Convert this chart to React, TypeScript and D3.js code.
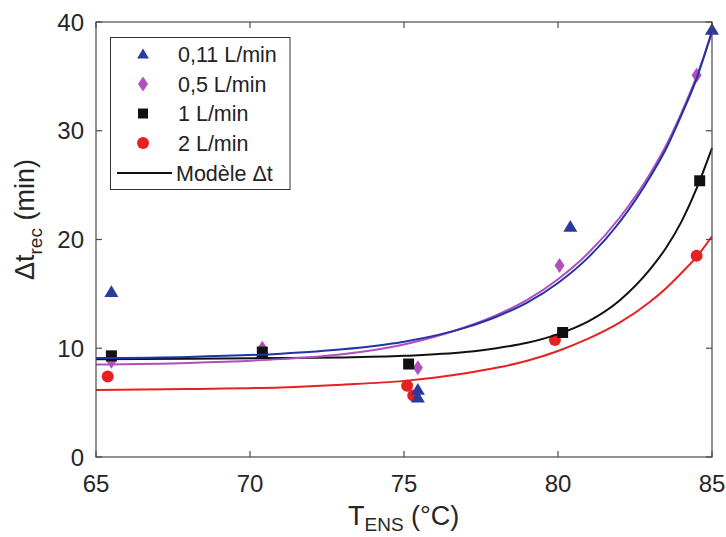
import React from "react";
import * as d3 from "d3";

const xTicks = [65, 70, 75, 80, 85];
const yTicks = [0, 10, 20, 30, 40];

// measured points
const triT = [65.5, 70.4, 75.45, 75.45, 80.4, 85.0];
const triV = [15.2, 9.5, 6.2, 5.5, 21.2, 39.3];
const diaT = [65.5, 70.4, 75.45, 80.05, 84.5];
const diaV = [8.8, 10.0, 8.2, 17.6, 35.1];
const sqT = [65.5, 70.4, 75.15, 80.15, 84.6];
const sqV = [9.3, 9.65, 8.55, 11.45, 25.4];
const cirT = [65.38, 75.1, 75.3, 79.9, 84.5];
const cirV = [7.4, 6.55, 5.65, 10.75, 18.5];

// model curves
const modelT = [65, 68, 71, 73, 75, 77, 78, 79, 80, 81, 82, 83, 83.5, 84, 84.5, 85];
const modelBlue = [9.1, 9.2, 9.5, 9.9, 10.6, 11.9, 12.9, 14.2, 16.0, 18.4, 21.6, 25.8, 28.3, 31.4, 34.8, 39.2];
const modelPurple = [8.5, 8.65, 9.0, 9.45, 10.35, 11.95, 13.05, 14.45, 16.35, 18.8, 22.0, 26.1, 28.6, 31.6, 35.0, 39.0];
const modelBlack = [9.0, 9.03, 9.1, 9.15, 9.3, 9.65, 10.0, 10.5, 11.3, 12.5, 14.4, 17.3, 19.2, 21.6, 24.7, 28.4];
const modelRed = [6.15, 6.25, 6.4, 6.65, 7.0, 7.7, 8.2, 8.85, 9.75, 10.9, 12.35, 14.3, 15.5, 16.9, 18.4, 20.3];

const legendLabels = ["0,11 L/min", "0,5 L/min", "1 L/min", "2 L/min", "Modèle Δt"];

const BLUE = "#2b3a9f";
const PURPLE = "#b04fbd";
const BLACK = "#111111";
const RED = "#e8201f";
const FONT = "'Liberation Sans', Arial, Helvetica, sans-serif";

const L = 96, R = 712, T = 22, B = 457;

export default function App() {
  const x = d3.scaleLinear().domain([65, 85]).range([L, R]);
  const y = d3.scaleLinear().domain([0, 40]).range([B, T]);
  const line = (vals: number[]) =>
    d3.line<number>().x((_, i) => x(modelT[i])).y((v) => y(v)).curve(d3.curveMonotoneX)(vals) || "";

  const tri = (cx: number, cy: number, s = 1) => {
    const w = 7 * s, h = 6.5 * s;
    return `M${cx},${cy - h} L${cx + w},${cy + h * 0.8} L${cx - w},${cy + h * 0.8} Z`;
  };
  const dia = (cx: number, cy: number) => `M${cx},${cy - 7.5} L${cx + 5},${cy} L${cx},${cy + 7.5} L${cx - 5},${cy} Z`;

  const legX = 143;
  const legRows = [54, 84, 113.5, 143, 173];

  return (
    <svg width={726} height={537} style={{ position: "absolute", left: 0, top: 0, background: "#fff" }}>
      <rect x={0} y={0} width={726} height={537} fill="#fff" />
      {/* markers */}
      {cirT.map((t, i) => (
        <circle key={"c" + i} cx={x(t)} cy={y(cirV[i])} r={6} fill={RED} />
      ))}
      {triT.map((t, i) => (
        <path key={"t" + i} d={tri(x(t), y(triV[i]))} fill={BLUE} />
      ))}
      {diaT.map((t, i) => (
        <path key={"d" + i} d={dia(x(t), y(diaV[i]))} fill={PURPLE} />
      ))}
      {sqT.map((t, i) => (
        <rect key={"s" + i} x={x(t) - 5.5} y={y(sqV[i]) - 5.5} width={11} height={11} fill={BLACK} />
      ))}
      {/* model curves */}
      <path d={line(modelRed)} fill="none" stroke={RED} strokeWidth={2} />
      <path d={line(modelBlack)} fill="none" stroke={BLACK} strokeWidth={2} />
      <path d={line(modelPurple)} fill="none" stroke={PURPLE} strokeWidth={2} />
      <path d={line(modelBlue)} fill="none" stroke={"#2233a8"} strokeWidth={2} />

      {/* axes box */}
      <rect x={L} y={T} width={R - L} height={B - T} fill="none" stroke="#4a4a4a" strokeWidth={1.2} />
      {xTicks.map((t) => (
        <g key={"xt" + t}>
          <line x1={x(t)} x2={x(t)} y1={B} y2={B - 6} stroke="#4a4a4a" strokeWidth={1.2} />
          <line x1={x(t)} x2={x(t)} y1={T} y2={T + 6} stroke="#4a4a4a" strokeWidth={1.2} />
          <text x={x(t)} y={492} textAnchor="middle" fontFamily={FONT} fontSize={24} fill="#262626">
            {t}
          </text>
        </g>
      ))}
      {yTicks.map((t) => (
        <g key={"yt" + t}>
          <line x1={L} x2={L + 6} y1={y(t)} y2={y(t)} stroke="#4a4a4a" strokeWidth={1.2} />
          <line x1={R} x2={R - 6} y1={y(t)} y2={y(t)} stroke="#4a4a4a" strokeWidth={1.2} />
          <text x={84} y={y(t) + 8.5} textAnchor="end" fontFamily={FONT} fontSize={24} fill="#262626">
            {t}
          </text>
        </g>
      ))}

      {/* axis labels */}
      <text x={348} y={525} fontFamily={FONT} fontSize={27} fill="#262626">
        T
        <tspan fontSize={19} dy={6}>ENS</tspan>
        <tspan dy={-6}> (°C)</tspan>
      </text>
      <text transform="translate(34,280) rotate(-90)" fontFamily={FONT} fontSize={27} fill="#262626">
        Δt
        <tspan fontSize={19} dy={8}>rec</tspan>
        <tspan dy={-8}> (min)</tspan>
      </text>

      {/* legend */}
      <rect x={110.5} y={37.5} width={179.5} height={152} fill="#fff" stroke="#333" strokeWidth={1} />
      <path d={tri(legX, legRows[0], 0.85)} fill={BLUE} />
      <path d={dia(legX, legRows[1])} fill={PURPLE} />
      <rect x={legX - 5} y={legRows[2] - 5} width={10} height={10} fill={BLACK} />
      <circle cx={legX} cy={legRows[3]} r={6} fill={RED} />
      <line x1={117} x2={172} y1={legRows[4]} y2={legRows[4]} stroke={BLACK} strokeWidth={2} />
      {legendLabels.map((lab, i) => (
        <text key={lab} x={i === 4 ? 176 : 178} y={legRows[i] + 7.5} fontFamily={FONT} fontSize={21.5} fill="#222">
          {lab}
        </text>
      ))}
    </svg>
  );
}
